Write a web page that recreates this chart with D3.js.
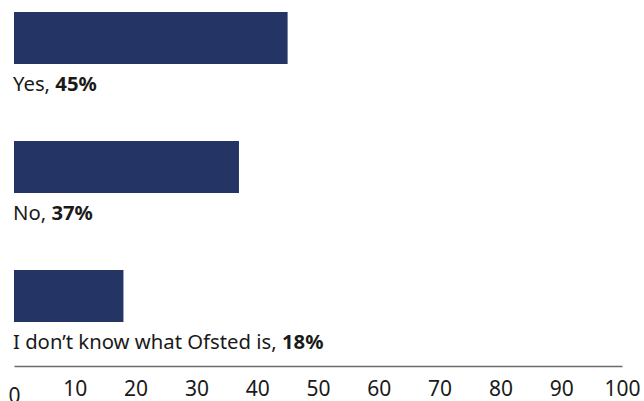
<!DOCTYPE html>
<html>
<head>
<meta charset="utf-8">
<script src="https://cdn.jsdelivr.net/npm/d3@7"></script>
<style>
  body { margin: 0; background: #fff; }
  text { font-family: "Noto Sans", "Open Sans", sans-serif; fill: #1a1a1a; }
</style>
</head>
<body>
<div id="chart"></div>
<script>
var categories = ["Yes", "No", "I don\u2019t know what Ofsted is"];
var values = [45, 37, 18];
var ticks = [0, 10, 20, 30, 40, 50, 60, 70, 80, 90, 100];

var width = 644,
    height = 401,
    margin = { left: 14, right: 22, top: 12 },
    bar_color = '#243465',
    bar_height = 52,
    row_step = 129;

var svg = d3.select('#chart').append('svg')
    .attr('width', width)
    .attr('height', height);

var x = d3.scaleLinear()
    .domain([0, 100])
    .range([margin.left, width - margin.right]);

var y = d3.scaleBand()
    .domain(categories)
    .range([margin.top, margin.top + row_step * categories.length])
    .paddingInner(0)
    .paddingOuter(0);

// bars
svg.selectAll('rect.bar')
    .data(categories)
    .enter().append('rect')
    .attr('class', 'bar')
    .attr('x', x(0))
    .attr('y', function(d) { return y(d); })
    .attr('width', function(d, i) { return x(values[i]) - x(0); })
    .attr('height', bar_height)
    .attr('fill', bar_color);

// labels under each bar
var labels = svg.selectAll('text.label')
    .data(categories)
    .enter().append('text')
    .attr('class', 'label')
    .attr('x', x(0) - 1)
    .attr('y', function(d) { return y(d) + bar_height + 27; })
    .style('font-size', '20.3px');

labels.append('tspan').text(function(d) { return d + ', '; });
labels.append('tspan')
    .style('font-weight', 'bold')
    .text(function(d, i) { return values[i] + '%'; });

// axis
var axis = d3.axisBottom(x)
    .tickValues(ticks)
    .tickSize(0)
    .tickPadding(15)
    .tickFormat(d3.format('d'));

var gx = svg.append('g')
    .attr('transform', 'translate(0,366)')
    .call(axis);

gx.attr('font-size', 21).attr('font-family', null);

gx.select('.domain')
    .attr('stroke', '#6b6b6b')
    .attr('stroke-width', 1.5);

gx.selectAll('text')
    .attr('fill', '#1a1a1a');

// the "0" sits a little lower than the other tick labels
gx.selectAll('.tick')
    .filter(function(d) { return d === 0; })
    .select('text')
    .attr('dy', '1.05em');
</script>
</body>
</html>
